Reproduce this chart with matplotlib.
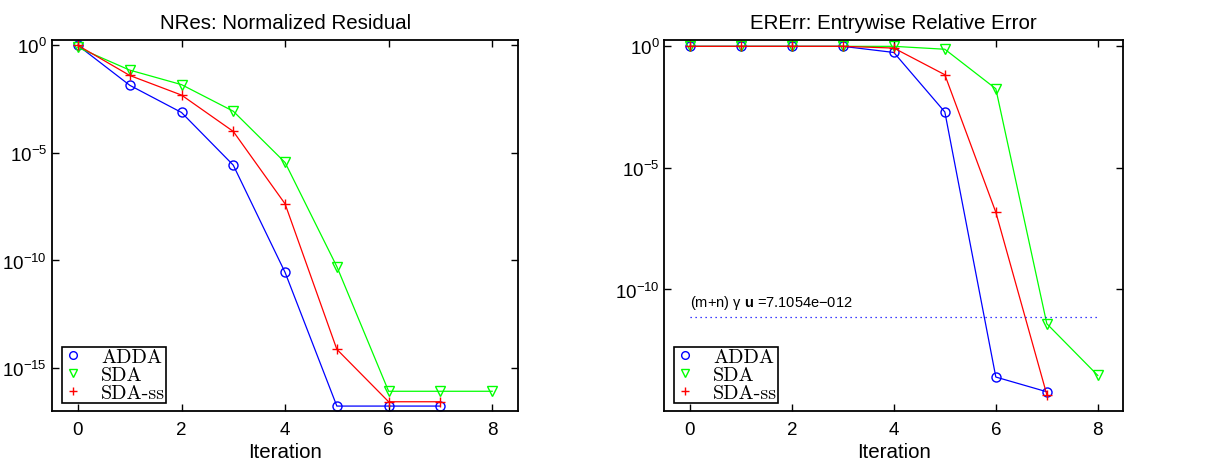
import matplotlib
matplotlib.use("Agg")
import matplotlib.pyplot as plt
from matplotlib.font_manager import FontProperties

plt.rcParams['font.family'] = ['Liberation Sans', 'DejaVu Sans']
plt.rcParams['mathtext.fontset'] = 'custom'
plt.rcParams['mathtext.rm'] = 'Liberation Sans'
plt.rcParams['mathtext.it'] = 'Liberation Sans:italic'
plt.rcParams['mathtext.bf'] = 'Liberation Sans:bold'

# ---- data ----
series_names = ["ADDA", "SDA", "SDA-ss"]

nres_adda = [1.0, 1.4e-2, 7.6e-4, 2.7e-6, 2.8e-11, 1.7e-17, 1.7e-17, 1.7e-17]
nres_sda = [0.8, 7.1e-2, 1.5e-2, 8.7e-4, 3.6e-6, 5.2e-11, 8.3e-17, 8.3e-17, 8.3e-17]
nres_sdass = [1.0, 4.0e-2, 4.9e-3, 1.0e-4, 4.3e-8, 7.4e-15, 2.7e-17, 2.7e-17]

ererr_adda = [1.0, 1.0, 1.0, 1.0, 0.56, 2.0e-3, 2.5e-14, 6.2e-15]
ererr_sda = [1.0, 1.0, 1.0, 1.0, 1.0, 0.76, 1.8e-2, 3.9e-12, 2.9e-14]
ererr_sdass = [1.0, 1.0, 1.0, 1.0, 0.85, 6.8e-2, 1.5e-7, 4.7e-15]

threshold = 7.1054e-12
threshold_label = "(m+n) \u03b3 $\\mathbf{u}$ =7.1054e\u2212012"

xticks = [0, 2, 4, 6, 8]
yticks_left = [1e0, 1e-5, 1e-10, 1e-15]
yticks_right = [1e0, 1e-5, 1e-10]

colors = ["#0000ff", "#00ff00", "#ff0000"]
markers = ["o", "v", "+"]

fig = plt.figure(figsize=(12.19, 4.64), dpi=100)
ax1 = fig.add_axes([0.0427, 0.112, 0.3823, 0.7996])
ax2 = fig.add_axes([0.545, 0.112, 0.3765, 0.7996])

legend_font = FontProperties(family='cmr10', size=14.5)


def draw(ax, data, title, ylim, yticks):
    handles = []
    for vals, c, m, name in zip(data, colors, markers, series_names):
        xs = list(range(len(vals)))
        ax.plot(xs, vals, color=c, lw=0.9)
        h, = ax.plot(xs, vals, linestyle='none', marker=m, mfc='none', mec=c,
                     ms=6.5 if m != '+' else 7, mew=1.0, label=name)
        handles.append(h)
    ax.set_yscale('log')
    ax.set_xlim(-0.5, 8.5)
    ax.set_ylim(*ylim)
    ax.set_xticks(xticks)
    ax.set_yticks(yticks)
    ax.minorticks_off()
    ax.tick_params(direction='in', top=True, right=True, length=5, width=1,
                   labelsize=13.5)
    ax.tick_params(axis='x', pad=7)
    for s in ax.spines.values():
        s.set_linewidth(1.3)
    ax.set_title(title, fontsize=14.8, pad=9)
    ax.set_xlabel("Iteration", fontsize=14.8, labelpad=3)
    leg = ax.legend(handles=handles, loc='lower left',
                    bbox_to_anchor=(0.021, 0.022), borderaxespad=0,
                    prop=legend_font, handlelength=1.0, handletextpad=0.9,
                    labelspacing=0.0, borderpad=0.05, fancybox=False,
                    framealpha=1, edgecolor='black', markerscale=0.85)
    leg.get_frame().set_linewidth(1.2)


draw(ax1, [nres_adda, nres_sda, nres_sdass], "NRes: Normalized Residual",
     (1e-17, 10 ** 0.25), yticks_left)
draw(ax2, [ererr_adda, ererr_sda, ererr_sdass], "ERErr: Entrywise Relative Error",
     (1e-15, 10 ** 0.26), yticks_right)

ax2.plot([0, 8], [threshold, threshold], linestyle=(0, (1, 3)), color='#0000ff', lw=0.9)
ax2.text(0, threshold * 10 ** 0.28, threshold_label, fontsize=10.5, va='bottom', ha='left')

fig.savefig("out.png", dpi=100)
